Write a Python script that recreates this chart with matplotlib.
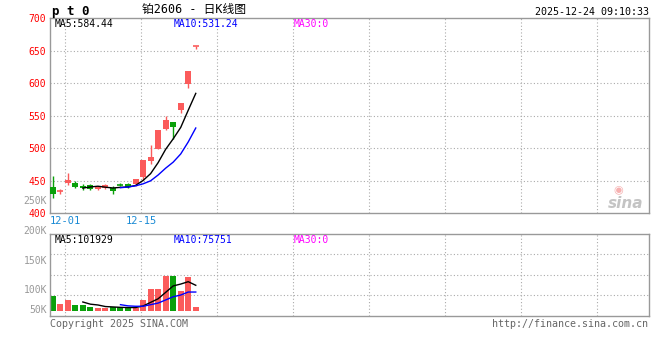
import matplotlib
matplotlib.use("Agg")
import matplotlib.pyplot as plt
import numpy as np
import pandas as pd

# daily K data (platinum 2606)
opens = [440, 434, 446.5, 445.5, 441.5, 443, 437, 438, 439, 443.2,
         444.5, 444, 455.7, 480, 499, 528.5, 539.5, 558, 598, 657]
closes = [429, 434.2, 450.6, 440, 438, 437.5, 440, 443, 434, 442.8,
          440, 452, 481.3, 486.5, 527.5, 542.5, 532.5, 569, 619, 657.2]
highs = [457, 437, 461, 449.5, 444, 445, 441.5, 444.5, 441.5, 445.5,
         445.5, 453, 481.5, 504, 527.5, 549, 540, 569, 619, 657.5]
lows = [423.5, 429, 443, 438, 436, 435.5, 435, 436.5, 429, 441,
        439, 442, 451, 476, 499, 527.5, 513.5, 554, 592, 652.5]
volumes = [59000, 28000, 43000, 24000, 24000, 16000, 12000, 12000, 16000, 16000,
           12000, 12000, 43000, 87000, 87000, 139000, 139000, 80000, 134000, 16000]
date_labels = ["12-01", "12-15"]
date_pos = [1.63, 11.73]
price_ticks = [700, 650, 600, 550, 500, 450, 400]
vol_labels = ["200K", "150K", "100K", "50K"]

RED = "#fb5b5b"
GREEN = "#0aa00a"
GRID = "#aaaaaa"
BORDER = "#999999"
MONO = ["DejaVu Sans Mono", "Noto Sans CJK SC"]

x = np.arange(len(closes))
up = np.array(closes) >= np.array(opens)
colors = [RED if u else GREEN for u in up]
ma5 = pd.Series(closes).rolling(5).mean()
ma10 = pd.Series(closes).rolling(10).mean()
vma5 = pd.Series(volumes).rolling(5).mean()
vma10 = pd.Series(volumes).rolling(10).mean()

fig = plt.figure(figsize=(6.6, 3.6), dpi=100)
W, H = 660, 360
ax = fig.add_axes([50 / W, 1 - 213 / H, 599 / W, 195 / H])
axv = fig.add_axes([50 / W, 1 - 315.5 / H, 599 / W, 81.5 / H])

xlim = (-0.36, 79.2)
grid_x = [1.63 + 10.1 * k for k in range(8)]

for a in (ax, axv):
    a.set_xlim(*xlim)
    for s in a.spines.values():
        s.set_color(BORDER)
        s.set_linewidth(1)
    for gx in grid_x:
        a.axvline(gx, color=GRID, lw=0.8, ls=(0, (1, 2)), zorder=0)
    a.set_xticks([])

# price panel
ax.set_ylim(400, 700)
for gy in price_ticks[1:-1]:
    ax.axhline(gy, color=GRID, lw=0.8, ls=(0, (1, 2)), zorder=0)
ax.set_yticks(price_ticks)
ax.set_yticklabels([str(t) for t in price_ticks], family=MONO, fontsize=7, color="#ff0000")
ax.tick_params(axis="y", length=0, pad=3)

bw = 0.8
for i in x:
    c = colors[i]
    ax.vlines(i, lows[i], highs[i], color=c, lw=1, zorder=2)
    lo, hi = min(opens[i], closes[i]), max(opens[i], closes[i])
    if hi - lo < 1:
        ax.hlines((lo + hi) / 2, i - bw / 2, i + bw / 2, color=c, lw=1.2, zorder=3)
    else:
        ax.bar(i, hi - lo, bottom=lo, width=bw, color=c, zorder=3)
ax.plot(x, ma5, color="black", lw=1, zorder=4)
ax.plot(x, ma10, color="#0000ff", lw=1, zorder=4)

ax.text(5 / 599, 0.968, "MA5:584.44", transform=ax.transAxes, family=MONO, fontsize=7,
        color="black", va="center")
ax.text(124 / 599, 0.968, "MA10:531.24", transform=ax.transAxes, family=MONO, fontsize=7,
        color="#0000ff", va="center")
ax.text(244 / 599, 0.968, "MA30:0", transform=ax.transAxes, family=MONO, fontsize=7,
        color="#ff00ff", va="center")
ax.text(-3 / 599, 0.063, "250K", transform=ax.transAxes, family=MONO, fontsize=7,
        color="#999999", va="center", ha="right")

for p, lab in zip(date_pos, date_labels):
    ax.text(p, 388, lab, family=MONO, fontsize=7.5, color="#1a8ad4", ha="center",
            va="center", clip_on=False)

# volume panel
vlo, vhi = -17775, 304150
axv.set_ylim(vlo, vhi)
for f in (0.25, 0.5, 0.75):
    axv.axhline(vlo + f * (vhi - vlo), color=GRID, lw=0.8, ls=(0, (1, 2)), zorder=0)
axv.set_yticks([])
axv.bar(x, volumes, width=bw, color=colors, zorder=2)
axv.plot(x, vma5, color="black", lw=1, zorder=3)
axv.plot(x, vma10, color="#0000ff", lw=1, zorder=3)

for lab, fy in zip(vol_labels, [1.037, 0.669, 0.313, 0.067]):
    axv.text(-3 / 599, fy, lab, transform=axv.transAxes, family=MONO, fontsize=7,
             color="#999999", va="center", ha="right")
axv.text(5 / 599, 0.93, "MA5:101929", transform=axv.transAxes, family=MONO, fontsize=7,
         color="black", va="center")
axv.text(124 / 599, 0.93, "MA10:75751", transform=axv.transAxes, family=MONO, fontsize=7,
         color="#0000ff", va="center")
axv.text(244 / 599, 0.93, "MA30:0", transform=axv.transAxes, family=MONO, fontsize=7,
         color="#ff00ff", va="center")

# header and footer
fig.text(52 / W, 1 - 11 / H, "p t 0", family=MONO, fontsize=9, fontweight="bold",
         va="center", ha="left")
fig.text(142 / W, 1 - 10 / H, "铂2606 - 日K线图", family=MONO, fontsize=8.5,
         va="center", ha="left")
fig.text(649 / W, 1 - 12 / H, "2025-12-24 09:10:33", family=MONO, fontsize=7.2,
         va="center", ha="right")
fig.text(50 / W, 1 - 324 / H, "Copyright 2025 SINA.COM", family=MONO, fontsize=7.2,
         color="#666666", va="center", ha="left")
fig.text(648 / W, 1 - 324 / H, "http://finance.sina.com.cn", family=MONO, fontsize=7.2,
         color="#666666", va="center", ha="right")

# sina watermark
fig.text(626 / W, 1 - 203 / H, "sina", fontsize=11, fontweight="bold", style="italic",
         color="#c4c4c4", va="center", ha="center")
fig.text(618 / W, 1 - 190 / H, "◉", fontsize=8, color="#f6b0b0", va="center", ha="center")

fig.savefig("out.png", dpi=100)
